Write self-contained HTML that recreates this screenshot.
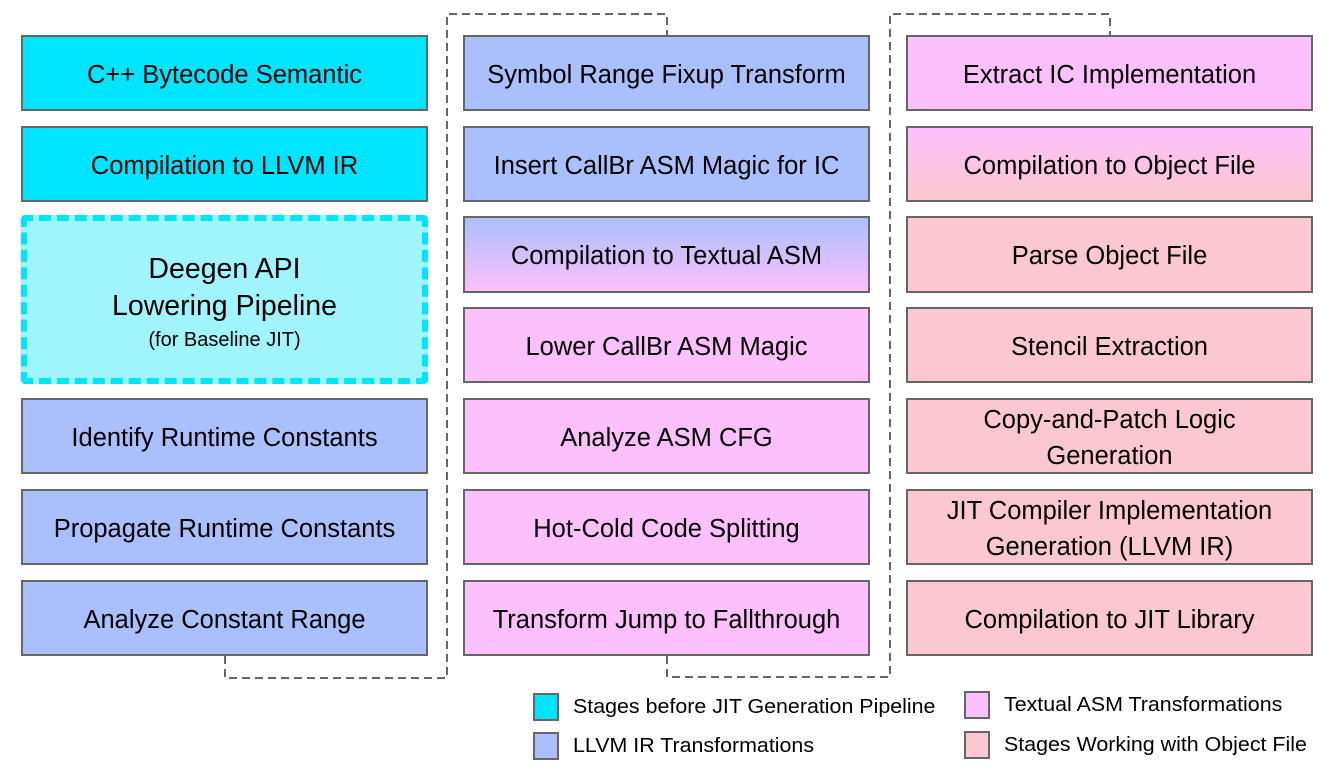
<!DOCTYPE html>
<html><head><meta charset="utf-8"><style>
body{margin:0;width:1340px;height:775px;background:#fff;position:relative;overflow:hidden;font-family:"Liberation Sans",sans-serif;}
.b{position:absolute;box-sizing:border-box;border:2px solid #666;display:flex;align-items:center;justify-content:center;text-align:center;font-size:25.5px;color:#000;line-height:36px;white-space:nowrap;padding-top:3px}
.c{background:#00e5ff}.l{background:#aac0fc}.p{background:#fcc0fc}.r{background:#fcc8d0}
.c1{left:21px;width:407px}.c2{left:463px;width:407px}.c3{left:906px;width:407px}
.sw{position:absolute;width:26px;height:28px;box-sizing:border-box;border:2px solid #666}
.lt{position:absolute;font-size:20px;transform:scaleX(1.07);transform-origin:left;white-space:nowrap}
</style></head><body>
<svg width="1340" height="775" style="position:absolute;left:0;top:0">
<g fill="none" stroke="#666" stroke-width="2" stroke-dasharray="8,5">
<polyline points="225,656 225,678 447,678 447,14 667,14 667,35"/>
<polyline points="667,656 667,677 890,677 890,14 1110,14 1110,35"/>
</g></svg>
<div class="b c c1" style="top:35px;height:76px">C++ Bytecode Semantic</div>
<div class="b c c1" style="top:126px;height:76px">Compilation to LLVM IR</div>
<div class="b c1" style="top:215px;height:169px;background:#a0f4fc;border:6px dashed #00e5ff;border-radius:4px;flex-direction:column;font-size:28.5px;line-height:37px;padding-top:6px"><div>Deegen API<br>Lowering Pipeline</div><div style="font-size:20px;line-height:30px">(for Baseline JIT)</div></div>
<div class="b l c1" style="top:398px;height:76px">Identify Runtime Constants</div>
<div class="b l c1" style="top:489px;height:76px">Propagate Runtime Constants</div>
<div class="b l c1" style="top:580px;height:76px">Analyze Constant Range</div>

<div class="b l c2" style="top:35px;height:76px">Symbol Range Fixup Transform</div>
<div class="b l c2" style="top:126px;height:76px">Insert CallBr ASM Magic for IC</div>
<div class="b c2" style="top:216px;height:77px;background:linear-gradient(#aac0fc,#fcc0fc)">Compilation to Textual ASM</div>
<div class="b p c2" style="top:307px;height:76px">Lower CallBr ASM Magic</div>
<div class="b p c2" style="top:398px;height:76px">Analyze ASM CFG</div>
<div class="b p c2" style="top:489px;height:76px">Hot-Cold Code Splitting</div>
<div class="b p c2" style="top:580px;height:76px">Transform Jump to Fallthrough</div>

<div class="b p c3" style="top:35px;height:76px">Extract IC Implementation</div>
<div class="b c3" style="top:126px;height:76px;background:linear-gradient(#fcc0fc,#fcc8d0)">Compilation to Object File</div>
<div class="b r c3" style="top:216px;height:77px">Parse Object File</div>
<div class="b r c3" style="top:307px;height:76px">Stencil Extraction</div>
<div class="b r c3" style="top:398px;height:76px">Copy-and-Patch Logic<br>Generation</div>
<div class="b r c3" style="top:489px;height:76px">JIT Compiler Implementation<br>Generation (LLVM IR)</div>
<div class="b r c3" style="top:580px;height:76px">Compilation to JIT Library</div>

<div class="sw" style="left:533px;top:693px;background:#00e5ff"></div>
<div class="lt" style="left:573px;top:696px">Stages before JIT Generation Pipeline</div>
<div class="sw" style="left:533px;top:732px;background:#aac0fc"></div>
<div class="lt" style="left:573px;top:735px">LLVM IR Transformations</div>
<div class="sw" style="left:964px;top:691px;background:#fcc0fc"></div>
<div class="lt" style="left:1004px;top:694px">Textual ASM Transformations</div>
<div class="sw" style="left:964px;top:731px;background:#fcc8d0"></div>
<div class="lt" style="left:1004px;top:734px">Stages Working with Object File</div>
</body></html>
